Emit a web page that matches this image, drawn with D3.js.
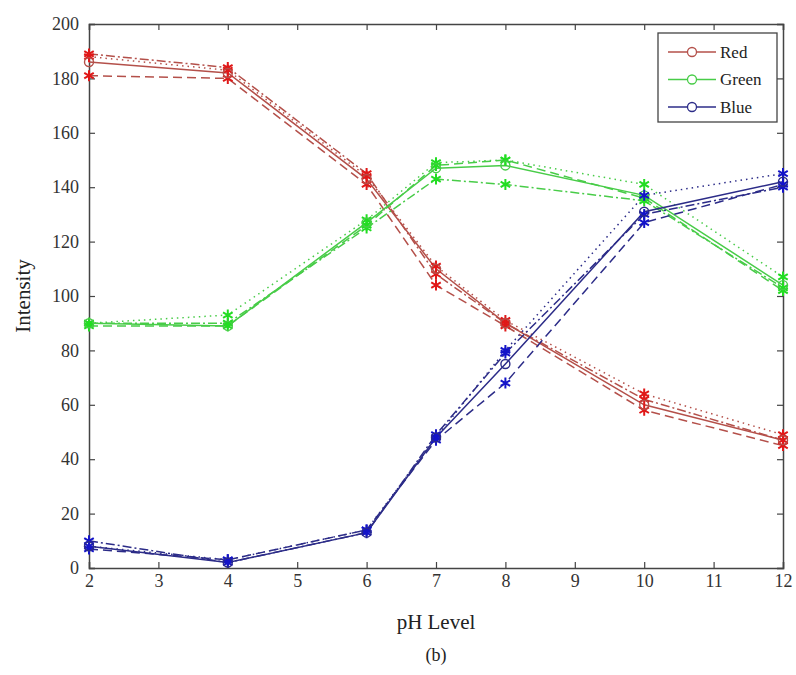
<!DOCTYPE html>
<html><head><meta charset="utf-8">
<script src="https://cdn.jsdelivr.net/npm/d3@7"></script>
<style>body{margin:0;background:#fff}</style>
</head><body>
<svg id="c" width="796" height="675"></svg>
<script>
const phLevels = [2, 4, 6, 7, 8, 10, 12];
const xTicks = [2,3,4,5,6,7,8,9,10,11,12];
const yTicks = [0,20,40,60,80,100,120,140,160,180,200];

const redSolid   = [186, 182, 143, 110, 90, 60, 47];
const redDashed  = [181, 180, 141, 104, 89, 58, 45];
const redDashDot = [189, 184, 145, 108, 90, 62, 47];
const redDotted  = [188, 183, 144, 111, 91, 64, 49];

const greenSolid   = [90, 89, 127, 147, 148, 137, 104];
const greenDashed  = [89, 89, 126, 148, 150, 136, 102];
const greenDashDot = [90, 90, 125, 143, 141, 135, 103];
const greenDotted  = [90, 93, 128, 149, 150, 141, 107];

const blueSolid   = [8, 2, 13, 48, 75, 131, 142];
const blueDashed  = [7, 3, 14, 47, 68, 127, 141];
const blueDashDot = [10, 2, 13, 49, 79, 130, 140];
const blueDotted  = [8, 3, 14, 48, 80, 137, 145];

const legendNames = ["Red", "Green", "Blue"];

const colors = {
  Red:   {line: "#b4504a", mark: "#e01818"},
  Green: {line: "#48cc48", mark: "#22dd22"},
  Blue:  {line: "#2c2c88", mark: "#1414c8"}
};
const styles = {
  solid:   {dash: null, marker: "circle"},
  dashed:  {dash: "9,5", marker: "star"},
  dashdot: {dash: "9,3,2,3", marker: "star"},
  dotted:  {dash: "1.5,4", marker: "star"}
};
const series = [
  {c:"Red", s:"dotted", v:redDotted},{c:"Red", s:"dashdot", v:redDashDot},{c:"Red", s:"dashed", v:redDashed},{c:"Red", s:"solid", v:redSolid},
  {c:"Green", s:"dotted", v:greenDotted},{c:"Green", s:"dashdot", v:greenDashDot},{c:"Green", s:"dashed", v:greenDashed},{c:"Green", s:"solid", v:greenSolid},
  {c:"Blue", s:"dotted", v:blueDotted},{c:"Blue", s:"dashdot", v:blueDashDot},{c:"Blue", s:"dashed", v:blueDashed},{c:"Blue", s:"solid", v:blueSolid}
];

const L = 89, R = 783, T = 24, B = 568;
const svg = d3.select("#c");
const x = d3.scaleLinear().domain([2, 12]).range([L, R]);
const y = d3.scaleLinear().domain([0, 200]).range([B, T]);
const font = "'Liberation Serif', 'DejaVu Serif', serif";
const axisColor = "#444";

const gB = svg.append("g").attr("transform", `translate(0,${B})`)
  .call(d3.axisBottom(x).tickValues(xTicks).tickSize(-6).tickPadding(10).tickFormat(d3.format("d")));
const gT = svg.append("g").attr("transform", `translate(0,${T})`)
  .call(d3.axisTop(x).tickValues(xTicks).tickSize(-6).tickFormat(""));
const gL = svg.append("g").attr("transform", `translate(${L},0)`)
  .call(d3.axisLeft(y).tickValues(yTicks).tickSize(-6).tickPadding(10).tickFormat(d3.format("d")));
const gR = svg.append("g").attr("transform", `translate(${R},0)`)
  .call(d3.axisRight(y).tickValues(yTicks).tickSize(-6).tickFormat(""));
[gB, gT, gL, gR].forEach(g => {
  g.select(".domain").attr("stroke", axisColor).attr("stroke-width", 1.5);
  g.selectAll(".tick line").attr("stroke", axisColor).attr("stroke-width", 1.2);
  g.selectAll("text").attr("font-family", font).attr("font-size", 18).attr("fill", "#333");
});
gB.selectAll("text").attr("dy", "0.5em");

const line = d3.line().x((d, i) => x(phLevels[i])).y(d => y(d));
const star = d3.symbol().type(d3.symbolAsterisk).size(85);

const plot = svg.append("g");
series.forEach(sr => {
  const col = colors[sr.c], st = styles[sr.s];
  plot.append("path").datum(sr.v).attr("d", line)
    .attr("fill", "none").attr("stroke", col.line).attr("stroke-width", 1.5)
    .attr("stroke-dasharray", st.dash);
});
series.forEach(sr => {
  const col = colors[sr.c], st = styles[sr.s];
  const g = plot.append("g");
  sr.v.forEach((v, i) => {
    if (st.marker === "circle") {
      g.append("circle").attr("cx", x(phLevels[i])).attr("cy", y(v)).attr("r", 4.5)
        .attr("fill", "none").attr("stroke", col.line).attr("stroke-width", 1.4);
    } else {
      g.append("path").attr("d", star).attr("transform", `translate(${x(phLevels[i])},${y(v)})`)
        .attr("fill", "none").attr("stroke", col.mark).attr("stroke-width", 2);
    }
  });
});

const lg = svg.append("g");
lg.append("rect").attr("x", 658).attr("y", 33).attr("width", 119).attr("height", 89)
  .attr("fill", "#fff").attr("stroke", axisColor).attr("stroke-width", 1.3);
legendNames.forEach((n, i) => {
  const yy = 52 + i * 27.5;
  lg.append("line").attr("x1", 668).attr("x2", 716).attr("y1", yy).attr("y2", yy)
    .attr("stroke", colors[n].line).attr("stroke-width", 1.5);
  lg.append("circle").attr("cx", 692).attr("cy", yy).attr("r", 4.5)
    .attr("fill", "#fff").attr("stroke", colors[n].line).attr("stroke-width", 1.3);
  lg.append("text").attr("x", 720).attr("y", yy).attr("dy", "0.35em")
    .attr("font-family", font).attr("font-size", 17).attr("fill", "#222").text(n);
});

svg.append("text").attr("transform", "translate(30,296) rotate(-90)").attr("text-anchor", "middle")
  .attr("font-family", font).attr("font-size", 21).attr("fill", "#222").text("Intensity");
svg.append("text").attr("x", 436).attr("y", 629).attr("text-anchor", "middle")
  .attr("font-family", font).attr("font-size", 21).attr("fill", "#222").text("pH Level");
svg.append("text").attr("x", 436).attr("y", 661).attr("text-anchor", "middle")
  .attr("font-family", font).attr("font-size", 18).attr("fill", "#222").text("(b)");
</script>
</body></html>
